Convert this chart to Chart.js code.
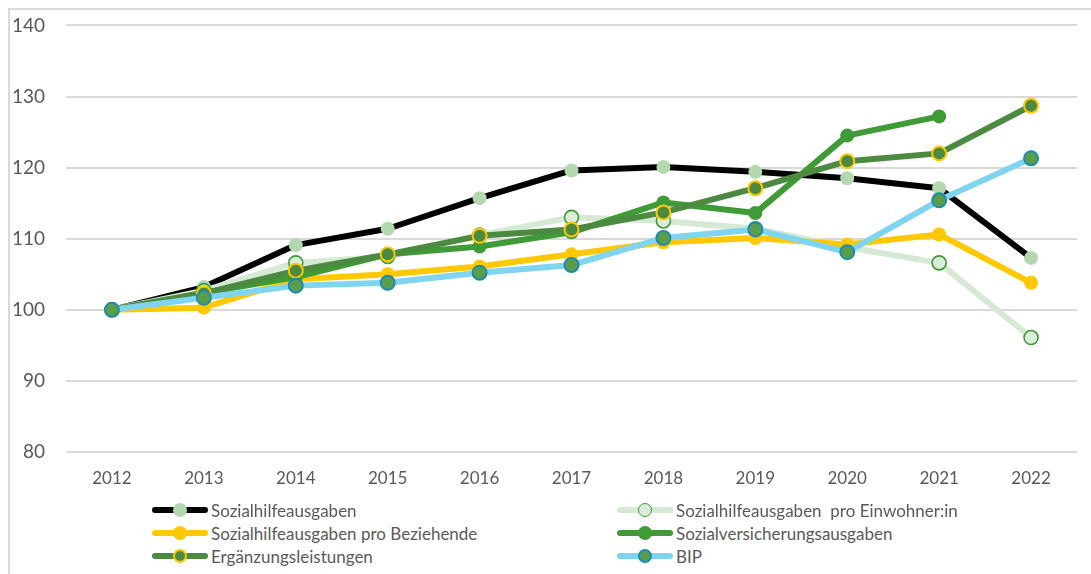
<!DOCTYPE html>
<html>
<head>
<meta charset="utf-8">
<script src="https://cdn.jsdelivr.net/npm/chart.js@4.4.1/dist/chart.umd.min.js"></script>
<style>
  html, body { margin:0; padding:0; background:#fff; }
  #wrap { position:relative; width:1091px; height:574px; overflow:hidden; font-family: Lato, "Noto Sans", sans-serif; }
  #frame { position:absolute; left:8px; top:8px; right:-10px; bottom:-10px; border-left:2px solid #d9d9d9; border-top:2px solid #d9d9d9; }
  #cbox { position:absolute; left:0; top:-7px; width:1091px; height:507px; }
  .leg { position:absolute; display:flex; align-items:center; height:22px; color:#595959; font-size:17px; white-space:pre; }
  .ico { position:relative; width:56px; height:14px; margin-right:3px; flex:none; }
  .ico .ln { position:absolute; left:0; right:0; top:4px; height:6px; border-radius:3px; }
  .ico .pt { position:absolute; left:21px; top:0px; width:14px; height:14px; border-radius:50%; box-sizing:border-box; }
</style>
</head>
<body>
<div id="wrap">
  <div id="frame"></div>
  <div id="cbox"><canvas id="c"></canvas></div>
  <div id="legend"></div>
</div>
<script>
const years = ['2012','2013','2014','2015','2016','2017','2018','2019','2020','2021','2022'];
const sozialhilfe   = [100, 103.2, 109.1, 111.4, 115.7, 119.6, 120.1, 119.4, 118.5, 117.1, 107.3];
const proEinwohner  = [100, 102.7, 106.6, 107.5, 110.5, 113.0, 112.5, 111.4, 108.8, 106.6, 96.1];
const proBeziehende = [100, 100.3, 104.3, 105.0, 106.1, 107.8, 109.5, 110.1, 109.2, 110.6, 103.8];
const sozialvers    = [100, 102.4, 104.6, 107.8, 108.9, 110.9, 115.1, 113.6, 124.5, 127.2, null];
const ergaenzung    = [100, 102.3, 105.5, 107.8, 110.4, 111.3, 113.7, 117.1, 120.9, 122.0, 128.7];
const bip           = [100, 101.7, 103.4, 103.8, 105.2, 106.3, 110.1, 111.3, 108.1, 115.4, 121.3];
const seriesNames = ['Sozialhilfeausgaben', 'Sozialhilfeausgaben  pro Einwohner:in', 'Sozialhilfeausgaben pro Beziehende', 'Sozialversicherungsausgaben', 'Ergänzungsleistungen', 'BIP'];
const yTicks = [80, 90, 100, 110, 120, 130, 140];

const styles = [
  {line:'#000000', fill:'#b3d8b0', border:'#b3d8b0', bw:0},
  {line:'#d6e9d4', fill:'#dcecda', border:'#3e9b36', bw:1.6},
  {line:'#ffc800', fill:'#ffc800', border:'#ffc800', bw:0},
  {line:'#3e9b36', fill:'#3e9b36', border:'#3e9b36', bw:0},
  {line:'#4b8a40', fill:'#4b8a40', border:'#ffc800', bw:2},
  {line:'#7fd5ef', fill:'#5a9e4a', border:'#1e8bb5', bw:2}
];
const values = [sozialhilfe, proEinwohner, proBeziehende, sozialvers, ergaenzung, bip];

const datasets = values.map((v, i) => ({
  label: seriesNames[i],
  data: v,
  borderColor: styles[i].line,
  backgroundColor: styles[i].fill,
  borderWidth: 6,
  borderJoinStyle: 'round',
  borderCapStyle: 'round',
  pointRadius: 7,
  pointHoverRadius: 7,
  pointBackgroundColor: styles[i].fill,
  pointBorderColor: styles[i].border,
  pointBorderWidth: styles[i].bw,
  tension: 0,
  spanGaps: false,
  order: values.length - 1 - i
}));

new Chart(document.getElementById('c'), {
  type: 'line',
  data: { labels: years, datasets },
  options: {
    responsive: true,
    maintainAspectRatio: false,
    animation: false,
    layout: { padding: { left: 0, right: 14, top: 7, bottom: 0 } },
    plugins: { legend: { display: false }, tooltip: { enabled: false } },
    scales: {
      x: {
        offset: true,
        grid: { display: false, drawTicks: false },
        border: { display: false },
        ticks: { color: '#595959', font: { family: 'Lato', size: 17 }, padding: 16 },
        afterFit: s => { s.height = 48; }
      },
      y: {
        min: 80, max: 140,
        afterBuildTicks: s => { s.ticks = yTicks.map(v => ({ value: v })); },
        grid: { color: '#d9d9d9', lineWidth: 2, drawTicks: false },
        border: { display: false },
        ticks: { color: '#595959', font: { family: 'Lato', size: 19 }, padding: 21 },
        afterFit: s => { s.width = 66; }
      }
    }
  }
});

// HTML legend built from the series definitions
const legend = document.getElementById('legend');
const colX = [152, 617];
const rowY = [499, 522, 545];
seriesNames.forEach((name, i) => {
  const item = document.createElement('div');
  item.className = 'leg';
  item.style.left = colX[i % 2] + 'px';
  item.style.top = rowY[Math.floor(i / 2)] + 'px';
  const ico = document.createElement('div');
  ico.className = 'ico';
  const ln = document.createElement('div');
  ln.className = 'ln';
  ln.style.background = styles[i].line;
  const pt = document.createElement('div');
  pt.className = 'pt';
  pt.style.background = styles[i].fill;
  if (styles[i].bw) pt.style.border = styles[i].bw + 'px solid ' + styles[i].border;
  ico.appendChild(ln); ico.appendChild(pt);
  const txt = document.createElement('span');
  txt.textContent = name;
  item.appendChild(ico); item.appendChild(txt);
  legend.appendChild(item);
});
</script>
</body>
</html>
